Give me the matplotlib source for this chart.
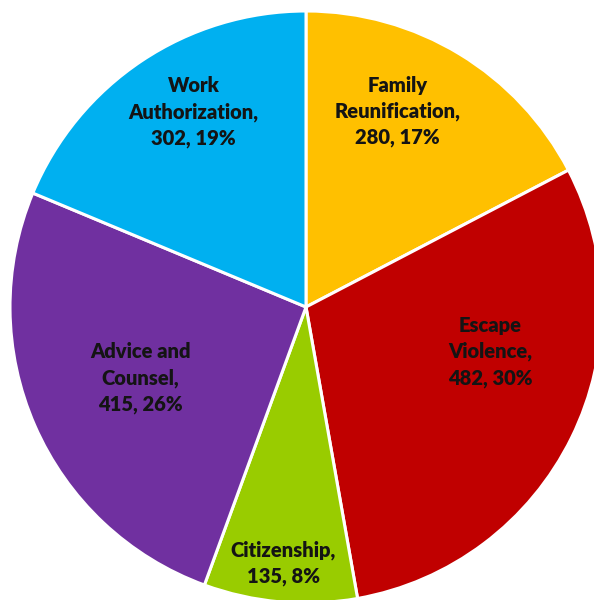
import matplotlib
matplotlib.use("Agg")
import matplotlib.pyplot as plt
import numpy as np

categories = ["Family\nReunification,", "Escape\nViolence,", "Citizenship,", "Advice and\nCounsel,", "Work\nAuthorization,"]
values = [280, 482, 135, 415, 302]
colors = ["#FFC000", "#C00000", "#99CC00", "#7030A0", "#00B0F0"]

# label placement (angle in degrees, radius as fraction of pie radius)
label_angles = [64.9, -13.7, -95.1, -156.8, 120.0]
label_radii = [0.73, 0.64, 0.87, 0.61, 0.76]

W, H = 594, 600
cx, cy, R = 306, 307, 296

fig = plt.figure(figsize=(W / 100, H / 100), dpi=100)
ax = fig.add_axes([0, 0, 1, 1])
ax.pie(values, colors=colors, startangle=90, counterclock=False, radius=1,
       wedgeprops=dict(edgecolor="white", linewidth=2.2))
ax.set_xlim(-cx / R, (W - cx) / R)
ax.set_ylim(-(H - cy) / R, cy / R)
ax.set_aspect("equal")
ax.axis("off")

total = sum(values)
for cat, v, a, r in zip(categories, values, label_angles, label_radii):
    pct = round(100 * v / total)
    txt = f"{cat}\n{v}, {pct}%"
    x, y = r * np.cos(np.radians(a)), r * np.sin(np.radians(a))
    ax.text(x, y, txt, ha="center", va="center", fontsize=14.5, fontweight="heavy",
            family=["Lato", "DejaVu Sans"], color="#141414", linespacing=1.42)

fig.savefig("out.png", dpi=100)
